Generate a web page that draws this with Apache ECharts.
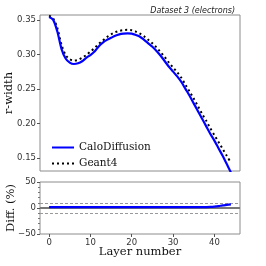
<!DOCTYPE html>
<html><head><meta charset="utf-8">
<script src="https://cdn.jsdelivr.net/npm/echarts@6/dist/echarts.min.js"></script>
<style>html,body{margin:0;padding:0;background:#fff}#c{width:266px;height:266px}</style>
</head><body><div id="c"></div>
<script>
const layers = [0,1,2,3,4,5,6,7,8,9,10,11,12,13,14,15,16,17,18,19,20,21,22,23,24,25,26,27,28,29,30,31,32,33,34,35,36,37,38,39,40,41,42,43,44];
const caloDiffusion = [0.354,0.350,0.333,0.308,0.294,0.288,0.286,0.287,0.290,0.295,0.299,0.304,0.3115,0.317,0.321,0.324,0.327,0.329,0.330,0.3305,0.330,0.328,0.3255,0.321,0.316,0.311,0.305,0.298,0.290,0.282,0.275,0.268,0.260,0.250,0.240,0.229,0.218,0.207,0.196,0.185,0.175,0.164,0.153,0.141,0.129];
const geant4 = [0.356,0.352,0.338,0.314,0.299,0.293,0.291,0.292,0.295,0.299,0.304,0.309,0.315,0.320,0.325,0.329,0.332,0.334,0.335,0.3355,0.335,0.333,0.330,0.326,0.321,0.316,0.310,0.303,0.296,0.288,0.281,0.274,0.266,0.256,0.246,0.236,0.225,0.214,0.204,0.193,0.183,0.173,0.163,0.153,0.143];
const diffPct = [1.5,1.5,1.5,1.5,1.5,1.5,1.5,1.5,1.5,1.5,1.5,1.5,1.5,1.5,1.5,1.5,1.5,1.5,1.5,1.5,1.5,1.5,1.5,1.5,1.5,1.5,1.5,1.5,1.5,1.5,1.5,1.5,1.5,1.5,1.5,1.6,1.6,1.7,1.8,2.0,2.5,3.5,5.0,6.0,7.0];
const xTicks = [0,10,20,30,40];
const yTicksTop = [0.15,0.20,0.25,0.30,0.35];
const diffBand = [-10,10];

const chart = echarts.init(document.getElementById('c'));
const frame = '#8c8c8c';
const tickLbl = {color:'#333', fontFamily:'DejaVu Sans', fontSize:8.5};
const serif = 'DejaVu Serif';
const noLine = {show:false, onZero:false};
chart.setOption({
  animation:false,
  title:{text:'Dataset 3 (electrons)', right:26, top:2, textStyle:{fontFamily:'DejaVu Sans', fontStyle:'italic', fontWeight:'normal', fontSize:8, color:'#222'}},
  grid:[
    {left:40, top:15, width:200, height:156, show:true, borderColor:frame, borderWidth:1, containLabel:false, outerBoundsMode:'none'},
    {left:40, top:182, width:200, height:52, show:true, borderColor:frame, borderWidth:1, containLabel:false, outerBoundsMode:'none'}
  ],
  legend:{left:46, top:137, orient:'vertical', itemWidth:22, itemHeight:10, itemGap:5,
    itemStyle:{opacity:0},
    textStyle:{fontFamily:serif, fontSize:10.5, color:'#111'},
    data:['CaloDiffusion','Geant4']},
  xAxis:[
    {gridIndex:0, type:'value', position:'bottom', min:-2.2, max:46.2, axisLine:noLine, axisTick:{show:false}, axisLabel:{show:false}, splitLine:{show:false}},
    {gridIndex:1, type:'value', position:'bottom', min:-2.2, max:46.2, axisLine:noLine, splitLine:{show:false},
      axisTick:{show:true, inside:false, customValues:xTicks, length:3, lineStyle:{color:'#555'}},
      axisLabel:{customValues:xTicks, margin:4, ...tickLbl},
      name:'Layer number', nameLocation:'middle', nameGap:12, nameMoveOverlap:false, nameTextStyle:{fontFamily:serif, fontSize:11.5, color:'#111'}}
  ],
  yAxis:[
    {gridIndex:0, type:'value', position:'left', min:0.131, max:0.357, axisLine:noLine, splitLine:{show:false},
      axisTick:{show:true, inside:false, customValues:yTicksTop, length:3, lineStyle:{color:'#555'}},
      axisLabel:{customValues:yTicksTop, margin:4, formatter:v=>v.toFixed(2), ...tickLbl},
      name:'r-width', nameLocation:'middle', nameGap:25, nameMoveOverlap:false, nameTextStyle:{fontFamily:serif, fontSize:11.5, color:'#111'}},
    {gridIndex:1, type:'value', position:'left', min:-50, max:50, interval:50, axisLine:noLine, splitLine:{show:false},
      axisTick:{show:true, inside:false, length:3, lineStyle:{color:'#555'}},
      minorTick:{show:true, splitNumber:5, length:2, lineStyle:{color:'#777'}},
      axisLabel:{margin:4, formatter:v=>String(v).replace('-','\u2212'), ...tickLbl},
      name:'Diff. (%)', nameLocation:'middle', nameGap:23, nameMoveOverlap:false, nameTextStyle:{fontFamily:serif, fontSize:11.5, color:'#111'}}
  ],
  series:[
    {name:'Geant4', type:'line', xAxisIndex:0, yAxisIndex:0, data:layers.map((x,i)=>[x,geant4[i]]), showSymbol:false, symbol:'none', smooth:0.3, clip:true,
      lineStyle:{color:'#000', width:2, type:[2,3]}, itemStyle:{color:'#000'}},
    {name:'CaloDiffusion', type:'line', xAxisIndex:0, yAxisIndex:0, data:layers.map((x,i)=>[x,caloDiffusion[i]]), showSymbol:false, symbol:'none', smooth:0.3, clip:true,
      lineStyle:{color:'#0000ff', width:2.2}, itemStyle:{color:'#0000ff'}},
    {name:'diff', type:'line', xAxisIndex:1, yAxisIndex:1, data:layers.map((x,i)=>[x,diffPct[i]]), showSymbol:false, symbol:'none', smooth:0.3,
      lineStyle:{color:'#0000ff', width:2.2}, z:3,
      markLine:{silent:true, symbol:'none', label:{show:false}, z:2,
        data:[
          {yAxis:0, lineStyle:{color:'#777', width:2.2, type:'solid'}},
          {yAxis:diffBand[0], lineStyle:{color:'#999', width:1, type:[3,2]}},
          {yAxis:diffBand[1], lineStyle:{color:'#999', width:1, type:[3,2]}}
        ]}}
  ]
});
</script></body></html>
